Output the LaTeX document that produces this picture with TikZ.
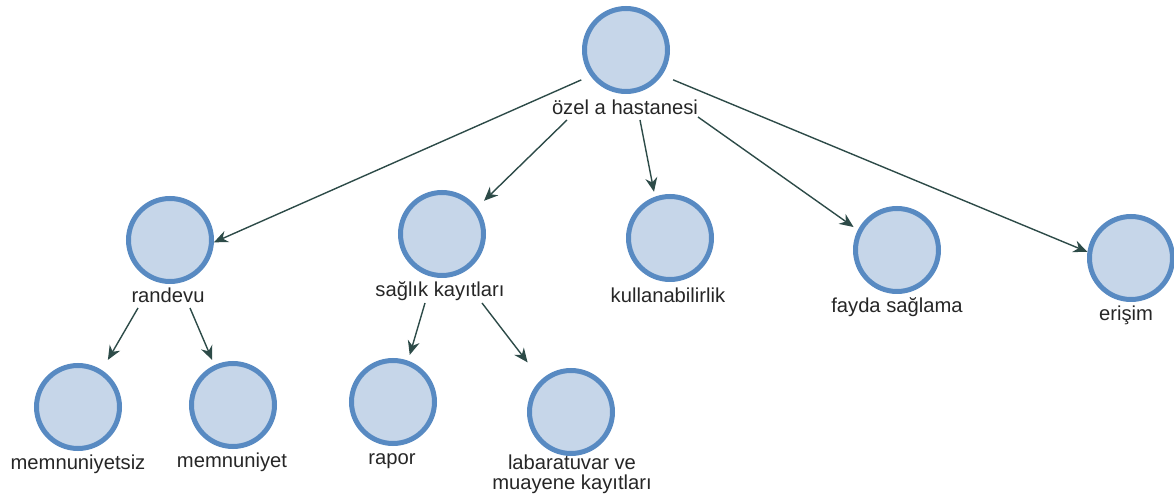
\documentclass[tikz,border=0pt]{standalone}
\usepackage{fontspec}
\setmainfont{Liberation Sans}
\usetikzlibrary{arrows.meta,calc}
\definecolor{cfill}{RGB}{198,214,233}
\definecolor{cline}{RGB}{88,138,194}
\definecolor{carrow}{RGB}{45,75,72}
\begin{document}
\begin{tikzpicture}[x=0.5pt,y=-0.5pt,
  concept/.style={circle,draw=cline,fill=cfill,line width=2.5pt,minimum size=41.5pt,inner sep=0pt},
  lbl/.style={anchor=base,inner sep=0pt,align=center,font=\fontsize{10.1}{10}\selectfont,text=black!85},
  link/.style={draw=carrow,line width=0.7pt,-{Stealth[length=7pt,width=6pt]}}]
\useasboundingbox (0,0) rectangle (1174,496);
% circles
\node[concept] (root) at (626,50) {};
\node[concept] (randevu) at (170,240) {};
\node[concept] (saglik) at (442,234) {};
\node[concept] (kullan) at (670,238) {};
\node[concept] (fayda) at (897,250) {};
\node[concept] (erisim) at (1131,258) {};
\node[concept] (memsiz) at (78,407) {};
\node[concept] (mem) at (233,405) {};
\node[concept] (rapor) at (393,402) {};
\node[concept] (lab) at (571,412) {};
% labels
\node[lbl] (rootl) at (625,115) {özel a hastanesi};
\node[lbl] (randevul) at (168,303) {randevu};
\node[lbl] (saglikl) at (440,297) {sağlık kayıtları};
\node[lbl] (kullanl) at (668,303) {kullanabilirlik};
\node[lbl] (faydal) at (897,313) {fayda sağlama};
\node[lbl] (erisiml) at (1126,321) {erişim};
\node[lbl] (memsizl) at (78,470) {memnuniyetsiz};
\node[lbl] (meml) at (232,468) {memnuniyet};
\node[lbl] (raporl) at (392,465) {rapor};
\node[lbl] (labl) at (572,490) {labaratuvar ve\\muayene kayıtları};
% connectors
\draw[link,shorten <=5pt] (root.216) -- (randevu.357);
\draw[link,shorten <=6pt] (root.325) -- (erisim.172);
\draw[link,shorten >=4.8pt] ($(rootl.base)+(-58,5)$) -- (saglik.37);
\draw[link,shorten >=2.5pt] ($(rootl.base)+(15,5)$) -- (kullan.110);
\draw[link,shorten >=2.6pt] ($(rootl.base)+(73,2)$) -- (fayda.153);
\draw[link,shorten >=5.9pt] ($(randevul.base)+(-30,5)$) -- (memsiz.57);
\draw[link,shorten >=2.8pt] ($(randevul.base)+(22,5)$) -- (mem.115);
\draw[link,shorten >=3pt] ($(saglikl.base)+(-15,6)$) -- (rapor.70);
\draw[link,shorten >=11pt] ($(saglikl.base)+(42,6)$) -- (lab.133);
\end{tikzpicture}
\end{document}
